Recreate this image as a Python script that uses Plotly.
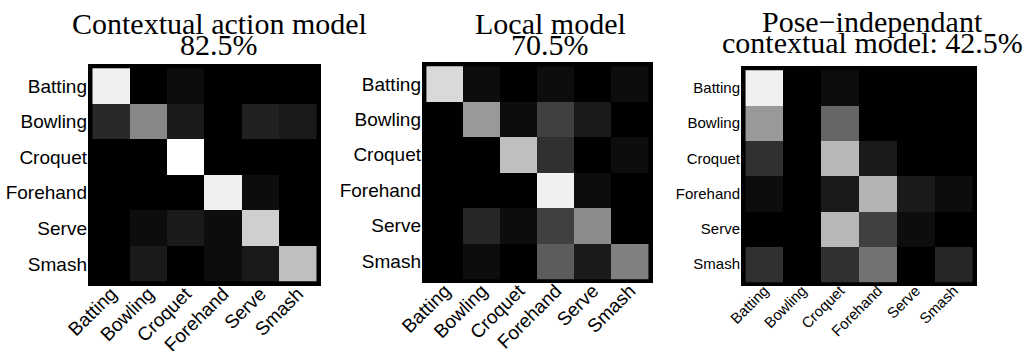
import plotly.graph_objects as go

categories = ["Batting", "Bowling", "Croquet", "Forehand", "Serve", "Smash"]

contextual = [
    [0.94, 0.00, 0.05, 0.00, 0.00, 0.00],
    [0.16, 0.53, 0.10, 0.00, 0.13, 0.10],
    [0.00, 0.00, 1.00, 0.00, 0.00, 0.00],
    [0.00, 0.00, 0.00, 0.94, 0.05, 0.00],
    [0.00, 0.05, 0.10, 0.05, 0.81, 0.00],
    [0.00, 0.10, 0.00, 0.05, 0.10, 0.75],
]
local = [
    [0.85, 0.05, 0.00, 0.05, 0.00, 0.05],
    [0.00, 0.60, 0.05, 0.25, 0.10, 0.00],
    [0.00, 0.00, 0.75, 0.19, 0.00, 0.05],
    [0.00, 0.00, 0.00, 0.94, 0.05, 0.00],
    [0.00, 0.15, 0.05, 0.25, 0.55, 0.00],
    [0.00, 0.05, 0.00, 0.36, 0.10, 0.50],
]
pose_indep = [
    [0.94, 0.00, 0.05, 0.00, 0.00, 0.00],
    [0.60, 0.00, 0.40, 0.00, 0.00, 0.00],
    [0.19, 0.00, 0.72, 0.10, 0.00, 0.00],
    [0.05, 0.00, 0.10, 0.70, 0.10, 0.05],
    [0.00, 0.00, 0.72, 0.25, 0.05, 0.00],
    [0.19, 0.00, 0.19, 0.45, 0.00, 0.15],
]
titles = [
    ("Contextual action model", "82.5%"),
    ("Local model", "70.5%"),
    ("Pose\u2212independant", "contextual model: 42.5%"),
]

W, H = 1028, 351
# outer box of each panel in pixels: (x0, x1, y0, y1)
boxes = [(88, 321, 64, 286), (422, 653, 62, 283), (741, 977, 66, 286)]
tick_sizes = [19, 19, 15]
title_pos = [(219, 23, 45), (550, 23, 45), (872, 21, 43)]

fig = go.Figure()
mats = [contextual, local, pose_indep]
idx = list(range(len(categories)))
pad = 0.12
for i, (m, box) in enumerate(zip(mats, boxes)):
    xa = "x" if i == 0 else f"x{i+1}"
    ya = "y" if i == 0 else f"y{i+1}"
    fig.add_trace(go.Heatmap(
        z=m, x=idx, y=idx, xaxis=xa, yaxis=ya,
        colorscale=[[0, "black"], [1, "white"]], zmin=0, zmax=1,
        showscale=False,
    ))
    x0, x1, y0, y1 = box
    kx = "xaxis" if i == 0 else f"xaxis{i+1}"
    ky = "yaxis" if i == 0 else f"yaxis{i+1}"
    fs = tick_sizes[i]
    fig.layout[kx] = dict(
        domain=[x0 / W, x1 / W], range=[-0.5 - pad, 5.5 + pad],
        tickvals=idx, ticktext=categories, tickangle=-45,
        showgrid=False, zeroline=False, ticks="", anchor=ya,
        automargin=False, ticklabelstandoff=-8,
        tickfont=dict(family="Liberation Sans, Arial", size=fs, color="black"),
        fixedrange=True,
    )
    fig.layout[ky] = dict(
        domain=[1 - y1 / H, 1 - y0 / H], range=[5.5 + pad, -0.5 - pad],
        tickvals=idx, ticktext=categories,
        showgrid=False, zeroline=False, ticks="", anchor=xa,
        automargin=False, ticklabelstandoff=0,
        tickfont=dict(family="Liberation Sans, Arial", size=fs, color="black"),
        fixedrange=True,
    )
    fig.add_shape(type="rect", xref="paper", yref="paper",
                  x0=x0 / W, x1=x1 / W, y0=1 - y1 / H, y1=1 - y0 / H,
                  fillcolor="black", line=dict(width=0), layer="below")
    tx, ty1, ty2 = title_pos[i]
    for txt, ty in zip(titles[i], (ty1, ty2)):
        fig.add_annotation(text=txt, x=tx / W, y=1 - ty / H, xref="paper", yref="paper",
                           xanchor="center", yanchor="middle", showarrow=False,
                           font=dict(family="Liberation Serif, Times New Roman", size=30, color="black"))

fig.update_layout(
    width=W, height=H, margin=dict(l=0, r=0, t=0, b=0),
    paper_bgcolor="white", plot_bgcolor="black", showlegend=False,
)
fig.write_html("out.html", config={"displayModeBar": False},
               post_script="document.body.style.margin='0';document.body.style.overflow='hidden';")
